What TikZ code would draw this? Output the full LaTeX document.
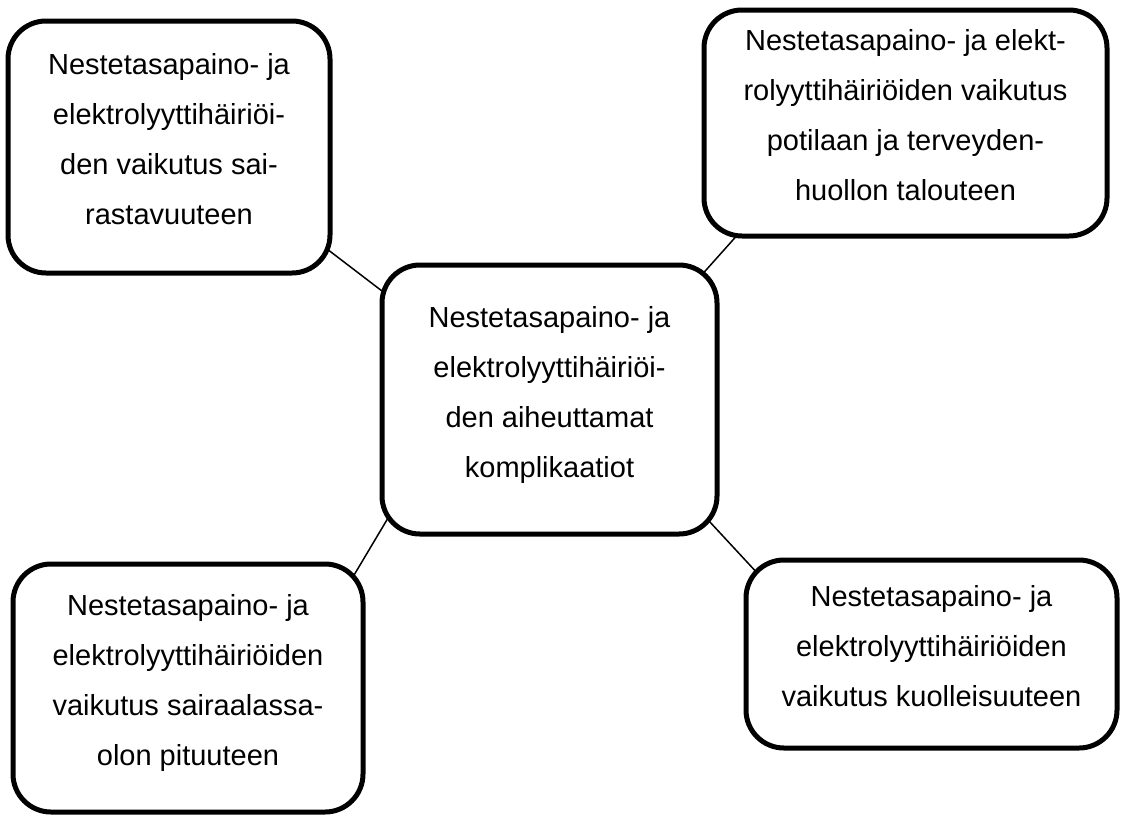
\documentclass[tikz,border=0pt]{standalone}
\usepackage{fontspec}
\setmainfont{Liberation Sans}
\usetikzlibrary{backgrounds}
\tikzstyle{every picture} = [x=1pt, y=1pt]
\tikzstyle{topic} = [draw, line width=5pt, rounded corners=38pt, fill=white, align=center, inner sep=0pt, text depth=16pt, font=\fontsize{29}{50}\selectfont]
\tikzstyle{link} = [-, line width=1.5pt, shorten <=-18pt, shorten >=-18pt]

\begin{document}
\begin{tikzpicture}
			\useasboundingbox (0,0) rectangle (1121,-815);
			\node (node main) [topic, minimum width=335pt, minimum height=269pt] at (549.5,-399.5) {Nestetasapaino- ja\\elektrolyyttihäiriöi-\\den aiheuttamat\\komplikaatiot};
			\node (node morbidity) [topic, minimum width=322pt, minimum height=252pt] at (169,-147) {Nestetasapaino- ja\\elektrolyyttihäiriöi-\\den vaikutus sai-\\rastavuuteen};
			\node (node costs) [topic, minimum width=403pt, minimum height=226pt] at (905.5,-123) {Nestetasapaino- ja elekt-\\rolyyttihäiriöiden vaikutus\\potilaan ja terveyden-\\huollon talouteen};
			\node (node stay) [topic, minimum width=350pt, minimum height=248pt] at (188,-688) {Nestetasapaino- ja\\elektrolyyttihäiriöiden\\vaikutus sairaalassa-\\olon pituuteen};
			\node (node mortality) [topic, minimum width=371pt, minimum height=188pt] at (931.5,-654) {Nestetasapaino- ja\\elektrolyyttihäiriöiden\\vaikutus kuolleisuuteen};
			\begin{scope}[on background layer]
			\path (node morbidity.-33.6) edge[link] (node main.147);
			\path (node costs.-146.3) edge[link] (node main.40.8);
			\path (node stay.36.6) edge[link] (node main.-142.1);
			\path (node main.-38.4) edge[link] (node mortality.153);
			\end{scope}
		\end{tikzpicture}
\end{document}
